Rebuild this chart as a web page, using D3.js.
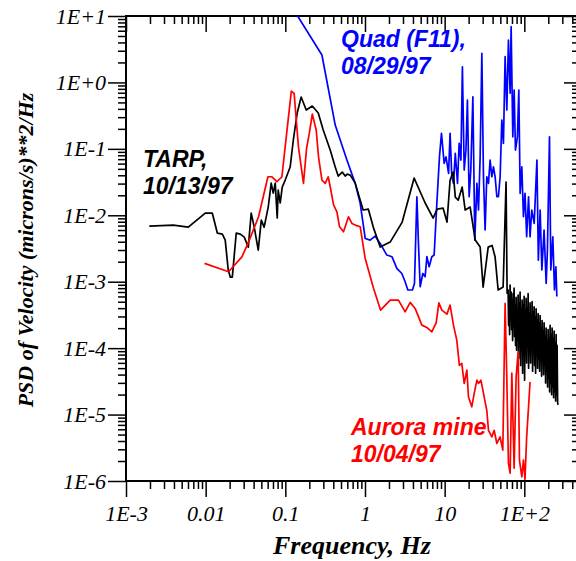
<!DOCTYPE html>
<html>
<head>
<meta charset="utf-8">
<script src="https://cdn.jsdelivr.net/npm/d3@7"></script>
<style>
  body { margin: 0; background: #fff; }
  svg { display: block; }
</style>
</head>
<body>
<div id="psd-chart"></div>
<script>
// [frequency Hz, PSD (microns/s)**2/Hz]
var tarpSeries = [
  [0.00196, 0.00687], [0.00392, 0.00712], [0.00605, 0.00664], [0.00989, 0.0108], [0.0121, 0.0108],
  [0.014, 0.0054], [0.0162, 0.0052], [0.0176, 0.00423], [0.0192, 0.0015], [0.0204, 0.00117],
  [0.0216, 0.00117], [0.0242, 0.0054], [0.0272, 0.0052], [0.0305, 0.0047], [0.0343, 0.00332],
  [0.0373, 0.0108], [0.0407, 0.00664], [0.0457, 0.00299], [0.0499, 0.00847], [0.0542, 0.00664],
  [0.061, 0.0133], [0.0665, 0.0305], [0.0705, 0.0216], [0.0747, 0.0305], [0.0791, 0.00908],
  [0.0814, 0.024], [0.0863, 0.0153], [0.0914, 0.0266], [0.0997, 0.0339], [0.115, 0.0532],
  [0.126, 0.136], [0.141, 0.346], [0.158, 0.603], [0.183, 0.384], [0.218, 0.441],
  [0.259, 0.346], [0.299, 0.192], [0.366, 0.096], [0.423, 0.0532], [0.461, 0.0389],
  [0.518, 0.0447], [0.564, 0.0389], [0.598, 0.0417], [0.652, 0.0403], [0.754, 0.0305],
  [0.871, 0.0169], [0.949, 0.012], [1.10, 0.0124], [1.27, 0.00664], [1.55, 0.00332],
  [2.07, 0.00395], [2.93, 0.0079], [4.14, 0.0363], [5.69, 0.0153], [7.17, 0.00908],
  [8.05, 0.0124], [9.57, 0.0128], [10.7, 0.0079], [11.7, 0.0339], [12.8, 0.0447],
  [13.6, 0.0188], [14.8, 0.0169], [16.6, 0.0266], [18.1, 0.012], [20.9, 0.0133],
  [24.2, 0.00423], [27.9, 0.00332], [30.4, 0.00083], [35.2, 0.00332], [39.4, 0.00352],
  [43.0, 0.00235], [46.9, 0.00075], [54.2, 0.00083], [59.0, 0.0316], [60.8, 0.00067],
  [62.6, 7.5e-4], [63.5, 2.2e-4], [64.4, 6.0e-4], [65.4, 1.6e-4], [66.3, 8.9e-4],
  [67.3, 3.1e-4], [68.3, 7.0e-4], [69.3, 1.9e-4], [70.3, 5.3e-4], [71.3, 1.3e-4],
  [72.3, 6.6e-4], [73.4, 2.6e-4], [74.4, 8.0e-4], [75.5, 1.5e-4], [76.6, 4.4e-4],
  [77.7, 1.1e-4], [78.9, 5.8e-4], [80.0, 9.3e-5], [81.2, 3.7e-4], [82.4, 1.7e-4],
  [83.6, 6.3e-4], [84.8, 7.0e-5], [86.0, 4.8e-4], [87.3, 1.2e-4], [88.5, 7.0e-4],
  [89.8, 5.5e-5], [91.1, 3.9e-4], [92.5, 1.4e-4], [93.8, 5.3e-4], [95.2, 4.2e-5],
  [96.6, 4.4e-4], [98.0, 9.0e-5], [99.4, 6.0e-4], [100.8, 3.3e-5], [102.3, 3.7e-4],
  [103.8, 1.1e-4], [105.3, 5.6e-4], [106.8, 6.0e-5], [108.4, 4.0e-4], [110.0, 1.5e-4],
  [111.6, 6.6e-4], [113.2, 5.0e-5], [114.8, 3.3e-4], [116.5, 8.0e-5], [118.2, 4.8e-4],
  [119.9, 6.0e-5], [121.7, 3.1e-4], [123.4, 1.2e-4], [125.2, 5.0e-4], [127.1, 4.5e-5],
  [128.9, 3.5e-4], [130.8, 9.0e-5], [132.7, 4.2e-4], [134.6, 5.5e-5], [136.6, 2.9e-4],
  [138.6, 4.2e-5], [140.6, 3.9e-4], [142.7, 1.0e-4], [144.7, 2.6e-4], [146.8, 5.0e-5],
  [149.0, 3.3e-4], [151.1, 7.0e-5], [153.3, 2.4e-4], [155.6, 4.5e-5], [157.8, 3.1e-4],
  [160.1, 8.0e-5], [162.5, 2.0e-4], [164.8, 3.8e-5], [167.2, 2.6e-4], [169.7, 6.5e-5],
  [172.1, 1.8e-4], [174.6, 4.0e-5], [177.2, 2.4e-4], [179.8, 5.5e-5], [182.4, 1.5e-4],
  [185.0, 3.0e-5], [187.7, 2.0e-4], [190.5, 4.5e-5], [193.2, 1.3e-4], [196.0, 2.6e-5],
  [198.9, 1.9e-4], [201.8, 3.5e-5], [204.7, 1.4e-4], [207.7, 2.2e-5], [210.7, 2.2e-4],
  [213.8, 3.0e-5], [216.9, 1.6e-4], [220.1, 2.0e-5], [223.3, 2.0e-4], [226.5, 2.6e-5],
  [229.8, 1.4e-4], [233.2, 1.8e-5], [236.6, 1.8e-4], [240.0, 2.2e-5], [243.5, 1.2e-4],
  [247.1, 1.6e-5], [250.7, 1.6e-4], [254.3, 2.0e-5], [258.0, 1.1e-4], [261.8, 1.5e-5],
  [265.6, 1.4e-5]
];

var quadSeries = [
  [0.1, 19.8], [0.288, 2.59], [0.423, 0.228], [0.593, 0.0678], [0.754, 0.0302],
  [0.871, 0.0151], [1.006, 0.00448], [1.16, 0.00423], [1.34, 0.00486], [1.55, 0.00377],
  [1.88, 0.00252], [2.18, 0.00238], [2.51, 0.00159], [2.90, 0.00133], [3.19, 0.000997],
  [3.45, 0.00075], [3.94, 0.00075], [4.18, 0.00094], [4.48, 0.019], [4.69, 0.00377],
  [4.93, 0.00084], [5.32, 0.00133], [5.69, 0.00119], [5.98, 0.00238], [6.39, 0.00168],
  [6.90, 0.00238], [7.38, 0.00252], [7.98, 0.0151], [8.61, 0.076], [9.12, 0.171],
  [9.86, 0.0605], [10.4, 0.076], [11.2, 0.0427], [11.7, 0.171], [12.3, 0.038],
  [12.9, 0.0302], [13.6, 0.0855], [14.5, 0.0302], [15.2, 0.121], [16.0, 0.0678],
  [16.7, 1.72], [17.6, 0.048], [18.5, 0.096], [19.3, 0.543], [20.3, 0.019],
  [21.3, 0.048], [22.6, 0.609], [23.9, 0.00423], [25.4, 0.0302], [26.6, 0.012],
  [27.9, 0.076], [29.3, 2.74], [30.7, 0.038], [32.2, 0.006], [33.8, 0.038],
  [35.5, 0.0302], [37.2, 0.0678], [39.1, 0.038], [41.0, 0.0537], [43.0, 0.038],
  [45.2, 0.019], [47.3, 0.019], [49.7, 0.038], [52.2, 0.272], [54.7, 0.121],
  [57.4, 2.44], [60.3, 0.384], [63.2, 4.35], [66.4, 0.685], [68.3, 6.9],
  [71.7, 0.152], [74.5, 0.768], [77.4, 0.096], [81.9, 0.152], [85.3, 0.768],
  [88.6, 0.0214], [93.0, 0.0537], [97.5, 0.0095], [102, 0.0214], [107, 0.00474],
  [113, 0.019], [118, 0.00474], [124, 0.012], [133, 0.00755], [144, 0.0678],
  [150, 0.00211], [158, 0.012], [166, 0.0015], [177, 0.006], [188, 0.00094],
  [195, 0.003], [207, 0.152], [215, 0.0015], [228, 0.00474], [239, 0.00075],
  [249, 0.00168], [256, 0.0006]
];

var auroraSeries = [
  [0.00969, 0.00189], [0.0194, 0.00141], [0.0285, 0.00237], [0.034, 0.00377], [0.0461, 0.00949],
  [0.0605, 0.038], [0.0679, 0.038], [0.0785, 0.032], [0.0906, 0.038], [0.105, 0.192],
  [0.119, 0.741], [0.129, 0.685], [0.146, 0.108], [0.169, 0.0302], [0.185, 0.103],
  [0.2, 0.171], [0.218, 0.334], [0.244, 0.192], [0.261, 0.076], [0.288, 0.0339],
  [0.317, 0.0302], [0.345, 0.038], [0.366, 0.0269], [0.403, 0.0143], [0.444, 0.0113],
  [0.479, 0.00671], [0.537, 0.00565], [0.621, 0.00949], [0.685, 0.00755], [0.754, 0.00712],
  [0.871, 0.00671], [1.006, 0.00224], [1.28, 0.0008], [1.57, 0.000373], [2.07, 0.000528],
  [2.63, 0.000528], [3.19, 0.000352], [3.69, 0.000488], [4.26, 0.000396], [5.18, 0.000222],
  [5.98, 0.000205], [6.90, 0.000176], [7.82, 0.00024], [8.46, 0.000481], [9.22, 0.000373],
  [10.7, 0.000325], [11.7, 0.000445], [12.9, 0.000222], [14.2, 0.000132], [15.3, 5.5e-5],
  [16.4, 5.9e-5], [17.6, 2.94e-5], [19.0, 4.67e-5], [19.9, 1.85e-5], [21.9, 1.31e-5],
  [23.5, 2.08e-5], [25.4, 3.3e-5], [26.6, 2.94e-5], [28.5, 3.3e-5], [30.2, 2.33e-5],
  [31.3, 1.85e-5], [33.8, 1.16e-5], [35.5, 5.8e-6], [39.1, 4.6e-6], [41.8, 5.8e-6],
  [45.2, 3.67e-6], [49.7, 4.6e-6], [53.7, 2.91e-6], [57.4, 0.000471], [60.3, 3.53e-5],
  [63.2, 1.84e-6], [66.4, 1.31e-6], [69.7, 4.2e-5], [74.5, 1.56e-6], [78.9, 3.7e-5],
  [83.6, 8.8e-5], [86.9, 2.06e-6], [93.0, 1.15e-6], [97.5, 2.06e-6], [102, 1.06e-6],
  [107, 4.6e-6], [113, 1.31e-5], [118, 3.1e-5]
];

var xTickValues = [1e-3, 1e-2, 1e-1, 1, 10, 100];
var xTickLabels = ["1E-3", "0.01", "0.1", "1", "10", "1E+2"];
var yTickValues = [1e1, 1e0, 1e-1, 1e-2, 1e-3, 1e-4, 1e-5, 1e-6];
var yTickLabels = ["1E+1", "1E+0", "1E-1", "1E-2", "1E-3", "1E-4", "1E-5", "1E-6"];

var seriesList = [
  { name: "quad", data: quadSeries, color: "#0000ff", label: ["Quad (F11),", "08/29/97"], x: 341, y: 47 },
  { name: "tarp", data: tarpSeries, color: "#000000", label: ["TARP,", "10/13/97"], x: 143, y: 167 },
  { name: "aurora", data: auroraSeries, color: "#ff0000", label: ["Aurora mine", "10/04/97"], x: 351, y: 435 }
];

var margin = { top: 16, left: 126 };
var width = 454;
var height = 465;
var serifFont = "'Liberation Serif', 'Times New Roman', serif";
var sansFont = "'Liberation Sans', Arial, sans-serif";

var svg = d3.select("#psd-chart")
  .append("svg")
  .attr("width", 576)
  .attr("height", 561);

var g = svg.append("g")
  .attr("transform", `translate(${margin.left}, ${margin.top})`);

var xScale = d3.scaleLog().domain([1e-3, 500]).range([0, width]);
var yScale = d3.scaleLog().domain([1e-6, 10]).range([height, 0]);

var isDecade = v => Math.abs(Math.log10(v) - Math.round(Math.log10(v))) < 1e-9;
var xMinor = xScale.ticks().filter(v => !isDecade(v) && v < 500);
var yMinor = yScale.ticks().filter(v => !isDecade(v));

function styleAxis(sel) {
  sel.select(".domain").remove();
  sel.selectAll(".tick line").attr("stroke", "#000").attr("stroke-width", 1.5);
}

// bottom
g.append("g")
  .attr("transform", `translate(0, ${height})`)
  .call(d3.axisBottom(xScale).tickValues(xMinor).tickSize(8).tickFormat(""))
  .call(styleAxis);
g.append("g")
  .attr("class", "x-axis")
  .attr("transform", `translate(0, ${height})`)
  .call(d3.axisBottom(xScale).tickValues(xTickValues).tickSize(16).tickPadding(8)
    .tickFormat((d, i) => xTickLabels[i]))
  .call(styleAxis);

// top (inward)
g.append("g")
  .call(d3.axisTop(xScale).tickValues(xMinor).tickSize(-8).tickFormat(""))
  .call(styleAxis);
g.append("g")
  .call(d3.axisTop(xScale).tickValues(xTickValues).tickSize(-16).tickFormat(""))
  .call(styleAxis);

// left
g.append("g")
  .call(d3.axisLeft(yScale).tickValues(yMinor).tickSize(8).tickFormat(""))
  .call(styleAxis);
g.append("g")
  .attr("class", "y-axis")
  .call(d3.axisLeft(yScale).tickValues(yTickValues).tickSize(18).tickPadding(2)
    .tickFormat((d, i) => yTickLabels[i]))
  .call(styleAxis);

// right (inward)
g.append("g")
  .attr("transform", `translate(${width}, 0)`)
  .call(d3.axisRight(yScale).tickValues(yMinor).tickSize(-8).tickFormat(""))
  .call(styleAxis);
g.append("g")
  .attr("transform", `translate(${width}, 0)`)
  .call(d3.axisRight(yScale).tickValues(yTickValues).tickSize(-16).tickFormat(""))
  .call(styleAxis);

g.selectAll(".x-axis text, .y-axis text")
  .attr("fill", "#000")
  .style("font-family", serifFont)
  .style("font-style", "italic")
  .style("font-size", "22px");

g.append("rect")
  .attr("width", width)
  .attr("height", height)
  .attr("fill", "none")
  .attr("stroke", "#000")
  .attr("stroke-width", 2);

g.append("clipPath")
  .attr("id", "plot-clip")
  .append("rect")
  .attr("width", width)
  .attr("height", height);

var line = d3.line()
  .x(d => xScale(d[0]))
  .y(d => yScale(d[1]));

g.append("g")
  .attr("clip-path", "url(#plot-clip)")
  .selectAll("path")
  .data(seriesList)
  .enter()
  .append("path")
  .attr("d", d => line(d.data))
  .attr("fill", "none")
  .attr("stroke", d => d.color)
  .attr("stroke-width", 1.7)
  .attr("stroke-linejoin", "round");

// series labels
seriesList.forEach(s => {
  var t = svg.append("text")
    .attr("x", s.x)
    .attr("y", s.y)
    .attr("fill", s.color)
    .style("font-family", sansFont)
    .style("font-weight", "bold")
    .style("font-style", "italic")
    .style("font-size", "23px");
  s.label.forEach((txt, i) => {
    t.append("tspan").attr("x", s.x).attr("dy", i ? 27 : 0).text(txt);
  });
});

// axis titles
svg.append("text")
  .attr("x", 352)
  .attr("y", 554)
  .attr("text-anchor", "middle")
  .style("font-family", serifFont)
  .style("font-weight", "bold")
  .style("font-style", "italic")
  .style("font-size", "26px")
  .text("Frequency, Hz");

svg.append("text")
  .attr("transform", "translate(33, 250) rotate(-90)")
  .attr("text-anchor", "middle")
  .style("font-family", serifFont)
  .style("font-weight", "bold")
  .style("font-style", "italic")
  .style("font-size", "22px")
  .text("PSD of Velocity (microns/s)**2/Hz");
</script>
</body>
</html>
